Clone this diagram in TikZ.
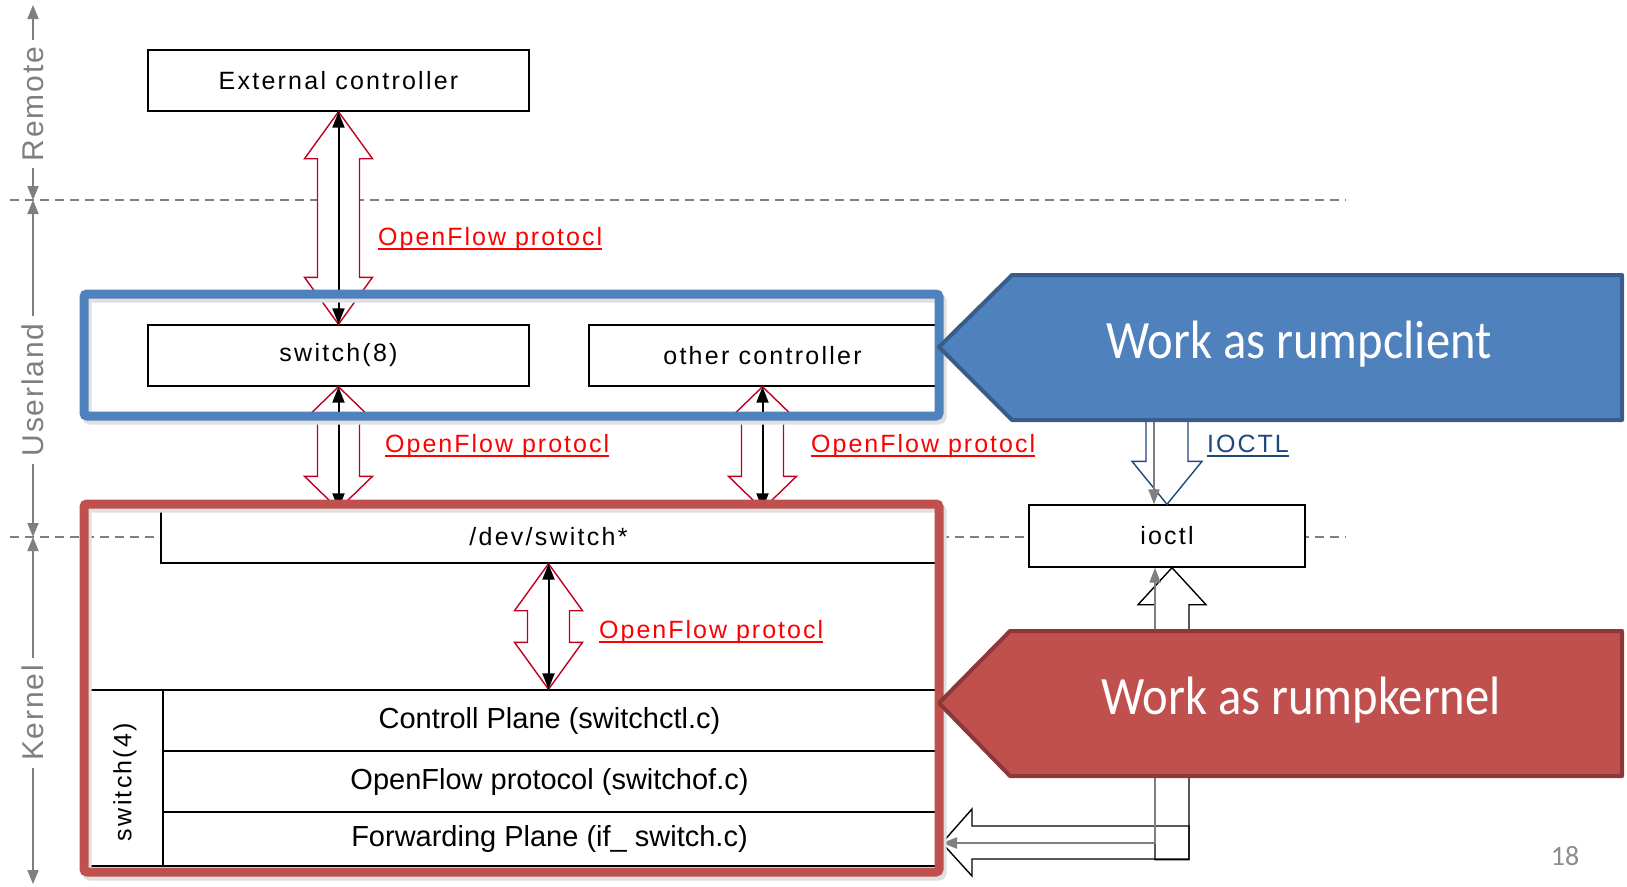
\documentclass[tikz,border=0pt]{standalone}
\usepackage{fontspec}
\setmainfont{Liberation Sans}
\newfontfamily\boxfont[LetterSpace=9]{Liberation Sans}
\newfontfamily\rowfont{Liberation Sans}
\newfontfamily\lblfont[LetterSpace=8]{Liberation Sans}
\newfontfamily\axisfont[LetterSpace=6]{Liberation Sans}
\newfontfamily\callfont[FakeStretch=0.9]{Carlito}
\newfontfamily\numfont{Carlito}
\usetikzlibrary{arrows.meta,calc}

\definecolor{lvgray}{RGB}{127,127,127}
\definecolor{ofred}{RGB}{192,0,32}
\definecolor{ofredtxt}{RGB}{255,0,0}
\definecolor{ioblue}{RGB}{31,73,125}
\definecolor{clientblue}{RGB}{79,129,189}
\definecolor{clientedge}{RGB}{56,93,138}
\definecolor{kernelred}{RGB}{192,80,77}
\definecolor{kerneledge}{RGB}{140,56,54}
\definecolor{numgray}{RGB}{140,140,140}

% text with a thick underline in the current colour
\newcommand\ulined[1]{\setbox0=\hbox{#1}\rlap{\rule[-5pt]{\wd0}{2.5pt}}\box0}

\tikzset{
  sepline/.style={draw=lvgray, line width=1.4pt, dash pattern=on 9pt off 6pt},
  lvtext/.style={rotate=90, text=lvgray, inner sep=7pt, font=\axisfont\fontsize{30}{34}\selectfont},
  lvarrow/.style={draw=lvgray, line width=1.8pt, arrows={-Triangle[length=14pt,width=11pt]}},
  box/.style={draw=black, line width=1.4pt, fill=white, inner sep=0pt, font=\boxfont\fontsize{25}{30}\selectfont},
  boxtext/.style={inner sep=0pt, font=\boxfont\fontsize{25}{30}\selectfont},
  row/.style={draw=black, line width=1.4pt, fill=white, inner sep=0pt, font=\rowfont\fontsize{29}{34}\selectfont},
  ofblock/.style={draw=ofred, line width=1.4pt, fill=white, line join=miter},
  ofline/.style={draw=black, line width=2pt, arrows={Triangle[length=16pt,width=12pt]-Triangle[length=16pt,width=12pt]}},
  ioblock/.style={draw=ioblue, line width=1.4pt, fill=white},
  upblock/.style={draw=black, line width=1.4pt},
  grayarrow/.style={draw=lvgray, line width=1.8pt, arrows={-Triangle[length=15pt,width=11pt]}},
  graydouble/.style={draw=lvgray, line width=1.8pt, arrows={Triangle[length=15pt,width=11pt]-Triangle[length=15pt,width=11pt]}},
  frameshadow/.style={draw=black!12, line width=9pt, rounded corners=3pt},
  clientframe/.style={draw=clientblue, line width=9pt, rounded corners=3pt},
  kernelframe/.style={draw=kernelred, line width=9pt, rounded corners=3pt},
  calloutclient/.style={fill=clientblue, draw=clientedge, line width=4pt, line join=round},
  calloutkernel/.style={fill=kernelred, draw=kerneledge, line width=4pt, line join=round},
  callouttext/.style={text=white, inner sep=0pt, anchor=base, font=\callfont\fontsize{54}{60}\selectfont},
  oflabel/.style={text=ofredtxt, inner sep=0pt, anchor=base west, font=\lblfont\fontsize{25}{30}\selectfont},
  iolabel/.style={text=ioblue, inner sep=0pt, anchor=base west, font=\lblfont\fontsize{25}{30}\selectfont},
}

% double-headed block arrow between two tips, with a thin arrow inside
\newcommand\dblblock[3]{%
  \draw[ofblock] (#1) -- ++(34,#3) -- ++(-13,0) -- ($(#2)+(21,-#3)$) -- ++(13,0)
    -- (#2) -- ++(-34,-#3) -- ++(13,0) -- ($(#1)+(-21,#3)$) -- ++(-13,0) -- cycle;
  \draw[ofline] (#1) -- (#2);
}

\begin{document}
\begin{tikzpicture}[x=1pt,y=-1pt]
\fill[white] (0,0) rectangle (1627,886);
\useasboundingbox (0,0) rectangle (1627,886);

% level separators
\draw[sepline] (10,200) -- (1346,200);
\draw[sepline] (10,537) -- (1346,537);

% level scale on the left
\coordinate (lvtop) at (33,5);
\coordinate (lv1) at (33,200);
\coordinate (lv2) at (33,537);
\coordinate (lvbot) at (33,884);
\node[lvtext] (remote) at (33,104) {Remote};
\node[lvtext] (userland) at (33,390) {Userland};
\node[lvtext] (kernel) at (33,713) {Kernel};
\draw[lvarrow] (remote.east) -- (lvtop);
\draw[lvarrow] (remote.west) -- (lv1);
\draw[lvarrow] (userland.east) -- (lv1);
\draw[lvarrow] (userland.west) -- (lv2);
\draw[lvarrow] (kernel.east) -- (lv2);
\draw[lvarrow] (kernel.west) -- (lvbot);

% components
\node[box, minimum width=381, minimum height=61] (ext) at (338.5,80.5) {External controller};
\node[box, minimum width=381, minimum height=61] (sw8) at (338.5,355.5) {switch(8)};
\node[box, minimum width=347, minimum height=61] (other) at (762.5,355.5) {other controller};
\node[box, minimum width=775, minimum height=53] (devsw) at (548.5,536.5) {/dev/switch*};
\node[box, minimum width=276, minimum height=62] (ioctl) at (1167,536) {ioctl};
\node[row, minimum width=75, minimum height=176] (sw4) at (125.5,778) {};
\node[row, minimum width=773, minimum height=61] (ctl) at (549.5,720.5) {Controll Plane (switchctl.c)};
\node[row, minimum width=773, minimum height=61] (ofp) at (549.5,781.5) {OpenFlow protocol (switchof.c)};
\node[row, minimum width=773, minimum height=54] (fwd) at (549.5,839) {Forwarding Plane (if\_ switch.c)};
\node[boxtext, rotate=90] (sw4t) at (125,782) {switch(4)};

% OpenFlow channels
\coordinate (devA) at (devsw.north -| sw8.south);
\coordinate (devB) at (devsw.north -| other.south);
\coordinate (ctlA) at (devsw.south |- ctl.north);
\dblblock{ext.south}{sw8.north}{47}
\dblblock{sw8.south}{devA}{33}
\dblblock{other.south}{devB}{33}
\dblblock{devsw.south}{ctlA}{47}

% ioctl path from the rumpclient side
\coordinate (iostart) at (1154,400);
\coordinate (iotip) at ($(ioctl.north)+(-13,0)$);
\draw[ioblock] ($(ioctl.north)+(-21,-120)$) -- ++(0,77) -- ++(-14,0) -- (ioctl.north)
  -- ++(35,-43) -- ++(-14,0) -- ++(0,-77);
\draw[grayarrow] (iostart) -- (iotip);

% ioctl path into the forwarding plane
\coordinate (uptip) at ($(ioctl.south)+(5,0)$);
\coordinate (ioctlin) at ($(ioctl.south)+(-12,0)$);
\coordinate (lefttip) at (942,843);
\fill[white] ($(uptip)+(-17,292)$) -- ++(0,-255) -- ++(-17,0) -- (uptip) -- ++(34,37) -- ++(-17,0) -- ++(0,255) -- cycle;
\fill[white] (lefttip) -- ++(30,-34) -- ++(0,17) -- ++(217,0) -- ++(0,33) -- ++(-217,0) -- ++(0,17) -- cycle;
\draw[upblock] ($(uptip)+(-17,292)$) -- ++(0,-255) -- ++(-17,0) -- (uptip) -- ++(34,37) -- ++(-17,0) -- ++(0,255) -- cycle;
\draw[upblock] (lefttip) -- ++(30,-34) -- ++(0,17) -- ++(217,0) -- ++(0,33) -- ++(-217,0) -- ++(0,17) -- cycle;
\draw[graydouble] (ioctlin) |- (lefttip);

% rumpclient / rumpkernel frames
\draw[frameshadow] (87,298) rectangle (942,420);
\draw[frameshadow] (87,508) rectangle (942,876);
\draw[clientframe] (84,294) rectangle (939,416);
\draw[kernelframe] (84,504) rectangle (939,872);

% callouts
\draw[calloutclient] (939,347) -- (1012,275) -- (1622,275) -- (1622,420) -- (1012,420) -- cycle;
\node[callouttext] (client) at (1299,358) {Work as rumpclient};
\draw[calloutkernel] (939,703) -- (1010,631) -- (1622,631) -- (1622,776) -- (1010,776) -- cycle;
\node[callouttext] (rumpk) at (1301,714) {Work as rumpkernel};

% channel labels
\node[oflabel] (of1) at (378,245) {\ulined{OpenFlow protocl}};
\node[oflabel] (of2) at (385,452) {\ulined{OpenFlow protocl}};
\node[oflabel] (of3) at (811,452) {\ulined{OpenFlow protocl}};
\node[oflabel] (of4) at (599,638) {\ulined{OpenFlow protocl}};
\node[iolabel] (iol) at (1207,452) {\ulined{IOCTL}};

% page number
\node[text=numgray, font=\numfont\fontsize{28}{32}\selectfont] (page) at (1565,856) {18};
\end{tikzpicture}
\end{document}
